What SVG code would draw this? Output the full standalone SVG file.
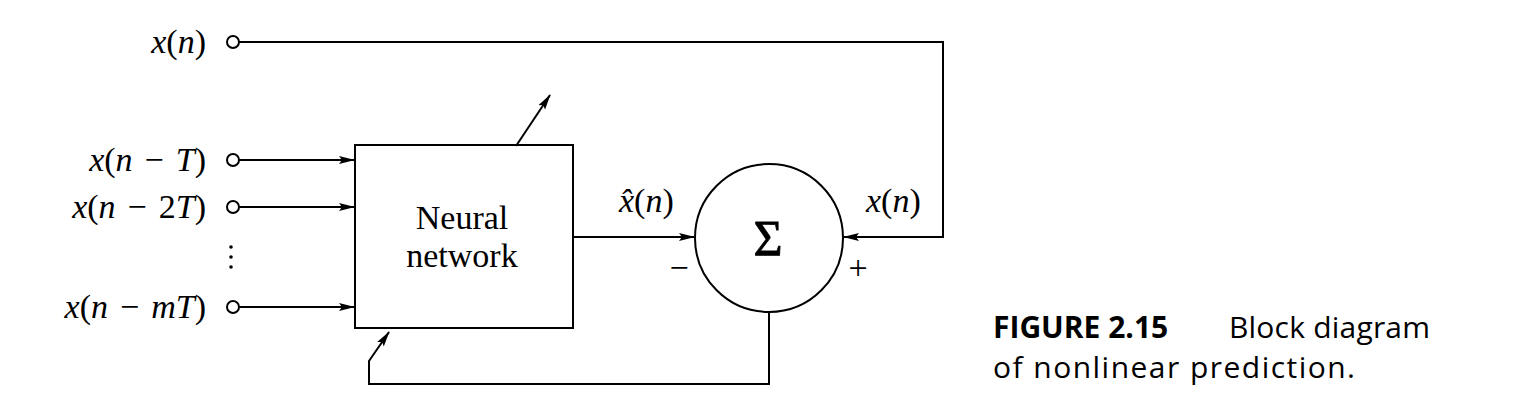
<svg xmlns="http://www.w3.org/2000/svg" width="1531" height="407" viewBox="0 0 1531 407">
<style>
.ln{fill:none;stroke:#000;stroke-width:2}
.term{fill:#fff;stroke:#000;stroke-width:2}
.lbl{font-family:"Liberation Serif",serif;font-size:34px;fill:#000}
.it{font-style:italic}
.cap{font-family:"Open Sans","Noto Sans",sans-serif;font-size:30px;fill:#000}
</style>
<defs>
<marker id="ah" markerWidth="16" markerHeight="10" refX="15" refY="5" orient="auto" markerUnits="userSpaceOnUse">
<path d="M0,1 L16,5 L0,9 L3,5 Z" fill="#000"/>
</marker>
</defs>
<rect width="1531" height="407" fill="#fff"/>
<g id="connectors">
<path class="ln" d="M239,42 H943 V237 H844" marker-end="url(#ah)"/>
<path class="ln" d="M239,160 H354" marker-end="url(#ah)"/>
<path class="ln" d="M239,207 H354" marker-end="url(#ah)"/>
<path class="ln" d="M239,307 H354" marker-end="url(#ah)"/>
<path class="ln" d="M573,237 H694" marker-end="url(#ah)"/>
<path class="ln" d="M769,312 V384 H369 V361 L389,332" marker-end="url(#ah)"/>
<path class="ln" d="M516,146 L550,95" marker-end="url(#ah)"/>
</g>
<g id="in-xn">
<circle class="term" cx="233" cy="42" r="6"/>
<text class="lbl" x="206" y="53" text-anchor="end"><tspan class="it">x</tspan>(<tspan class="it">n</tspan>)</text>
</g>
<g id="in-xnT">
<circle class="term" cx="233" cy="160" r="6"/>
<text class="lbl" x="206" y="171" text-anchor="end"><tspan class="it">x</tspan>(<tspan class="it">n</tspan><tspan dx="12">−</tspan><tspan class="it" dx="12">T</tspan>)</text>
</g>
<g id="in-xn2T">
<circle class="term" cx="233" cy="207" r="6"/>
<text class="lbl" x="206" y="218" text-anchor="end"><tspan class="it">x</tspan>(<tspan class="it">n</tspan><tspan dx="12">−</tspan><tspan dx="12">2</tspan><tspan class="it">T</tspan>)</text>
</g>
<g id="dots">
<circle cx="231" cy="247" r="1.8"/>
<circle cx="231" cy="257" r="1.8"/>
<circle cx="231" cy="267" r="1.8"/>
</g>
<g id="in-xnmT">
<circle class="term" cx="233" cy="307" r="6"/>
<text class="lbl" x="206" y="318" text-anchor="end"><tspan class="it">x</tspan>(<tspan class="it">n</tspan><tspan dx="12">−</tspan><tspan class="it" dx="12">mT</tspan>)</text>
</g>
<g id="neural-network">
<rect class="ln" x="355" y="145" width="218" height="183"/>
<text class="lbl" x="462" y="229" text-anchor="middle" font-size="36">Neural</text>
<text class="lbl" x="462" y="267" text-anchor="middle" font-size="36">network</text>
</g>
<g id="xhat-label">
<text class="lbl" x="619" y="212"><tspan class="it">x̂</tspan>(<tspan class="it">n</tspan>)</text>
</g>
<g id="sum">
<circle class="ln" cx="769" cy="238" r="74"/>
<text x="768" y="255" text-anchor="middle" font-family="Liberation Serif,serif" font-size="50" stroke="#000" stroke-width="0.8">Σ</text>
<text class="lbl" x="679" y="279" text-anchor="middle">−</text>
<text class="lbl" x="858" y="279" text-anchor="middle">+</text>
</g>
<g id="xn-label">
<text class="lbl" x="866" y="212"><tspan class="it">x</tspan>(<tspan class="it">n</tspan>)</text>
</g>
<g id="caption">
<text class="cap" x="993" y="338"><tspan font-weight="bold">FIGURE 2.15</tspan></text>
<text class="cap" x="1229" y="338" textLength="201">Block diagram</text>
<text class="cap" x="993" y="378" textLength="362">of nonlinear prediction.</text>
</g>
</svg>
